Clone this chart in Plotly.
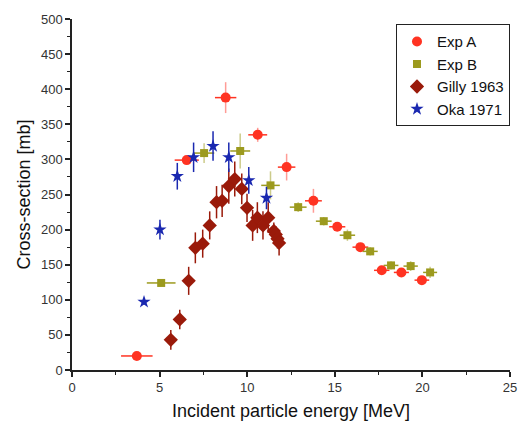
import plotly.graph_objects as go

# Exp A
a_x = [3.7, 6.55, 8.77, 10.6, 12.25, 13.78, 15.14, 16.46, 17.68, 18.8, 19.97]
a_y = [20, 299, 388, 335, 289, 241, 204, 175, 142, 139, 128]
a_dx = [0.9, 0.69, 0.61, 0.54, 0.5, 0.48, 0.46, 0.45, 0.44, 0.43, 0.42]
a_dy = [3, 5, 22, 10, 19, 17, 5, 5, 5, 5, 5]

# Exp B
b_x = [5.09, 7.54, 9.6, 11.33, 12.91, 14.37, 15.72, 17.02, 18.21, 19.33, 20.44]
b_y = [124, 309, 312, 263, 232, 212, 192, 169, 149, 148, 139]
b_dx = [0.82, 0.58, 0.57, 0.53, 0.48, 0.45, 0.44, 0.43, 0.42, 0.41, 0.4]
b_dy = [3, 14, 25, 20, 7, 6, 8, 6, 6, 7, 8]

# Gilly 1963
g_x = [5.64, 6.15, 6.66, 7.04, 7.46, 7.86, 8.25, 8.57, 8.95, 9.29, 9.69, 9.99,
       10.31, 10.58, 10.9, 11.2, 11.52, 11.63, 11.73, 11.82]
g_y = [43, 72, 127, 174, 180, 206, 239, 241, 262, 272, 258, 231,
       206, 217, 206, 217, 198, 193, 187, 181]
g_dy = [14, 14, 20, 22, 20, 20, 23, 23, 25, 25, 22, 20,
        22, 22, 20, 22, 12, 12, 14, 18]

# Oka 1971
o_x = [4.11, 5.02, 6.01, 6.94, 8.05, 8.95, 10.09, 11.1]
o_y = [97, 200, 276, 303, 319, 303, 270, 245]
o_dy = [4, 14, 19, 21, 21, 21, 19, 16]

fig = go.Figure()

fig.add_trace(go.Scatter(
    x=a_x, y=a_y, mode="markers", name="Exp A",
    marker=dict(symbol="circle", size=10, color="#ff3322"),
    error_x=dict(type="data", array=a_dx, color="#ff3322", thickness=1.5, width=0),
    error_y=dict(type="data", array=a_dy, color="rgba(255,90,80,0.6)", thickness=1.5, width=0),
))
fig.add_trace(go.Scatter(
    x=b_x, y=b_y, mode="markers", name="Exp B",
    marker=dict(symbol="square", size=8, color="#9c9a1e"),
    error_x=dict(type="data", array=b_dx, color="#9c9a1e", thickness=1.5, width=0),
    error_y=dict(type="data", array=b_dy, color="rgba(170,168,60,0.6)", thickness=1.5, width=0),
))
fig.add_trace(go.Scatter(
    x=g_x, y=g_y, mode="markers", name="Gilly 1963",
    marker=dict(symbol="diamond", size=11, color="#9a1a0a"),
    error_y=dict(type="data", array=g_dy, color="#9a1a0a", thickness=1.5, width=0),
))
fig.add_trace(go.Scatter(
    x=o_x, y=o_y, mode="markers", name="Oka 1971",
    marker=dict(symbol="star", size=10, color="#1a28b0"),
    error_y=dict(type="data", array=o_dy, color="#1a28b0", thickness=1.5, width=0),
))

axis_font = dict(family="Liberation Sans, Arial, sans-serif", size=13, color="#333333")
fig.update_layout(
    width=529, height=430,
    margin=dict(l=72, r=15, t=18, b=59),
    plot_bgcolor="white", paper_bgcolor="white",
    font=dict(family="Liberation Sans, Arial, sans-serif", color="#222222"),
    showlegend=True,
    legend=dict(
        x=1.0, y=0.985, xanchor="right", yanchor="top",
        bordercolor="#222222", borderwidth=1, bgcolor="white",
        font=dict(size=15, color="#111111"),
        tracegroupgap=0,
    ),
    xaxis=dict(
        range=[0, 25], tickmode="linear", tick0=0, dtick=5,
        showgrid=False, zeroline=False, showline=True, linecolor="#222222", linewidth=1.5,
        ticks="outside", ticklen=5, tickwidth=1.5, tickcolor="#222222",
        minor=dict(dtick=2.5, ticks="outside", ticklen=3, tickwidth=1.2, tickcolor="#222222"),
        tickfont=axis_font,
        title=dict(text="Incident particle energy [MeV]", font=dict(size=18, color="#111111"), standoff=10),
    ),
    yaxis=dict(
        range=[0, 500], tickmode="linear", tick0=0, dtick=50,
        showgrid=False, zeroline=False, showline=True, linecolor="#222222", linewidth=1.5,
        ticks="outside", ticklen=5, tickwidth=1.5, tickcolor="#222222",
        minor=dict(dtick=25, ticks="outside", ticklen=3, tickwidth=1.2, tickcolor="#222222"),
        tickfont=axis_font,
        title=dict(text="Cross-section [mb]", font=dict(size=18, color="#111111"), standoff=6),
    ),
)

fig.write_html("out.html")
